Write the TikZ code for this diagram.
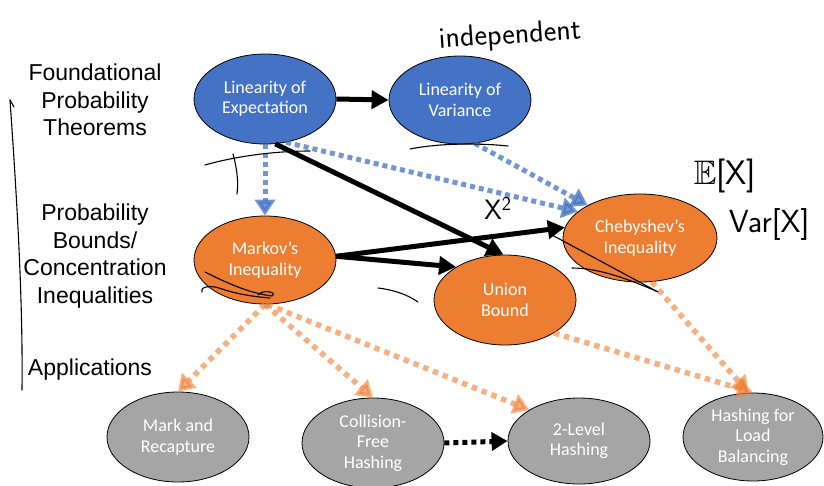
\documentclass[tikz,border=0pt]{standalone}
\usepackage{amssymb}
\usepackage{fontspec}
\setmainfont{Liberation Sans}
\newfontfamily\calibri{Carlito}
\usetikzlibrary{shapes.geometric,arrows.meta}
\definecolor{cblue}{HTML}{4472C4}
\definecolor{corange}{HTML}{ED7D31}
\definecolor{cgray}{HTML}{A5A5A5}
\begin{document}
\begin{tikzpicture}[x=1pt,y=-1pt,
  ell/.style={ellipse, draw=black, line width=0.8pt, inner sep=0pt,
    minimum width=142pt, minimum height=88pt, text=white, align=center,
    font=\calibri\fontsize{18}{20.5}\selectfont},
  bluenode/.style={ell, fill=cblue},
  orangenode/.style={ell, fill=corange},
  graynode/.style={ell, fill=cgray},
  rowlabel/.style={align=center, font=\fontsize{23}{27.5}\selectfont},
  heavy/.style={draw=black, line width=5pt, -{Triangle[length=17pt,width=18pt]}},
  bluedot/.style={draw=cblue, opacity=0.75, line width=5pt,
    dash pattern=on 5pt off 4pt, -{Triangle[length=16pt,width=20pt]}},
  orangedot/.style={draw=corange, opacity=0.6, line width=5.5pt,
    dash pattern=on 5.5pt off 5pt, -{Triangle[length=16pt,width=20pt]}},
  blackdot/.style={draw=black, line width=5pt,
    dash pattern=on 5pt off 4pt, -{Triangle[length=16pt,width=18pt]}},
  ink/.style={draw=black, line width=1.1pt, line cap=round, line join=round},
  hand/.style={font=\sffamily\fontsize{28}{30}\selectfont}
]
\useasboundingbox (0,0) rectangle (824,485);

% row labels
\node[rowlabel] (r1) at (95,100) {Foundational\\Probability\\Theorems};
\node[rowlabel] (r2) at (95,256) {Probability\\Bounds/\\Concentration\\Inequalities};
\node[rowlabel] (r3) at (90,370) {Applications};

% nodes
\node[bluenode, minimum height=90pt] (LE) at (265,99) {Linearity of\\Expectation};
\node[bluenode] (LV) at (460,100) {Linearity of\\Variance};
\node[orangenode] (MK) at (265,260) {Markov’s\\Inequality};
\node[orangenode, minimum height=90pt] (UB) at (505,300) {Union\\Bound};
\node[orangenode, minimum width=154pt] (CH) at (640,238) {Chebyshev’s\\Inequality};
\node[graynode, minimum height=90pt] (MR) at (178,437) {Mark and\\Recapture};
\node[graynode, minimum height=90pt] (CF) at (373,443) {Collision-\\Free\\Hashing};
\node[graynode, minimum height=86pt] (TL) at (579,441) {2-Level\\Hashing};
\node[graynode, minimum width=140pt] (HL) at (753,437) {Hashing for\\Load\\Balancing};

% black arrows
\draw[heavy] (LE.east) -- (LV.west);
\draw[heavy] (LE.-77) -- (UB.92);
\draw[heavy] (MK.3) -- (UB.146);
\draw[heavy] (MK.3) -- (CH.172);

% blue dotted arrows
\draw[bluedot] (LE.south) -- (MK.north);
\draw[bluedot] (LE.-64) -- (CH.157);
\draw[bluedot] (LV.-71) -- (CH.148);

% orange dotted arrows
\draw[orangedot] (MK.south) -- (MR.north);
\draw[orangedot] (MK.south) -- (CF.north);
\draw[orangedot] (MK.-87) -- (TL.148);
\draw[orangedot] (UB.-34) -- (HL.90);
\draw[orangedot] (CH.-75) -- (HL.96);

% black dotted arrow
\draw[blackdot] (CF.east) -- (TL.west);

% handwritten annotations
\node[hand, font=\sffamily\fontsize{30}{32}\selectfont, rotate=4] (ind) at (510,36) {independent};
\node[hand, font=\sffamily\fontsize{34}{36}\selectfont] (ex) at (725,176) {$\mathbb{E}$[X]};
\node[hand, font=\sffamily\fontsize{32}{34}\selectfont] (vx) at (769,224) {Var[X]};
\node[hand] (x2) at (498,208) {X\textsuperscript{2}};

% ink scribbles
\draw[ink] (10,100) .. controls (17,200) and (23,300) .. (22,390);
\draw[ink] (10,100) -- (14,107);
\draw[ink] (410,149) .. controls (440,143) and (480,143) .. (508,146);
\draw[ink] (205,165) .. controls (240,155) and (280,151) .. (310,151);
\draw[ink] (233,154) .. controls (236,165) and (239,180) .. (237,194);
\draw[ink] (205,272) .. controls (225,282) and (248,293) .. (272,296)
  .. controls (278,292) and (262,289) .. (258,295);
\draw[ink] (202,292) .. controls (200,286) and (212,285) .. (222,289)
  .. controls (240,295) and (258,297) .. (270,298);
\draw[ink] (378,288) .. controls (395,290) and (408,295) .. (418,302);
\draw[ink] (552,235) -- (658,292);
\draw[ink] (572,268) .. controls (600,268) and (630,280) .. (656,291);
\end{tikzpicture}
\end{document}
